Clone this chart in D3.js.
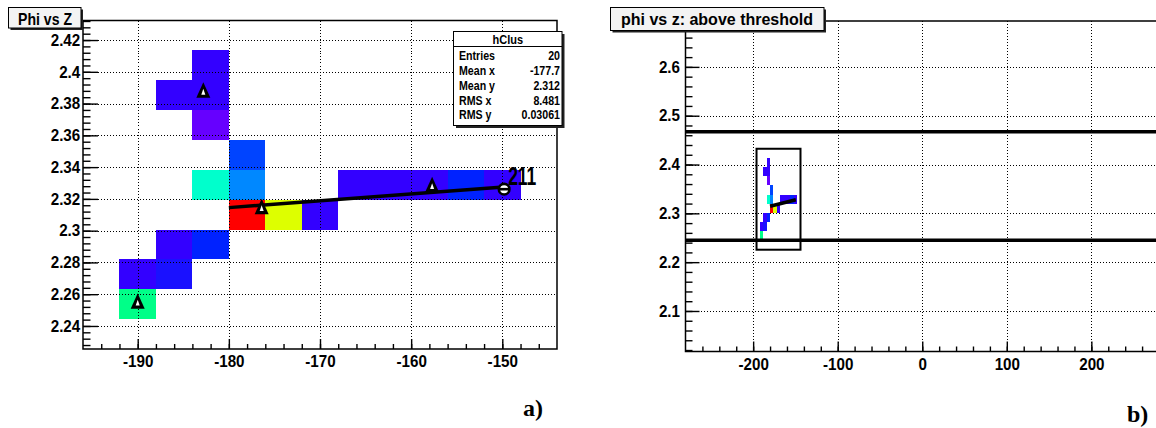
<!DOCTYPE html>
<html><head><meta charset="utf-8">
<script src="https://cdn.jsdelivr.net/npm/d3@7"></script>
<style>
html,body{margin:0;padding:0;background:#fff;}
svg{display:block;font-family:"Liberation Sans",Arial,Helvetica,sans-serif;}
</style></head><body>
<svg id="c" width="1156" height="428"></svg>
<script>
// ---- cluster histogram hClus: bin centres (z, phi) and cell contents ----
const cellZ   = [-190, -190, -186, -186, -182, -178, -174, -170, -182, -178,
                 -178, -182, -186, -182, -182, -166, -162, -158, -154, -150];
const cellPhi = [2.2537, 2.2725, 2.2725, 2.2913, 2.2913, 2.3101, 2.3101, 2.3101, 2.3289, 2.3289,
                 2.3477, 2.3665, 2.3853, 2.3853, 2.4041, 2.3289, 2.3289, 2.3289, 2.3289, 2.3289];
const cellW   = [8, 2, 2.5, 2, 3, 12, 10, 2, 7, 5,
                 4, 1, 2, 2, 2, 2, 2, 2, 3, 2];

// histogram binning
const histZRange = [-196, -144], histZBins = 13;
const histPhiRange = [2.2255, 2.4323], histPhiBins = 11;

// colour palette (low -> high content)
const paletteLevels = [1, 2, 3, 4, 5, 6, 7, 8, 9, 10, 11, 12];
const paletteColors = ["#6600ff", "#3300ff", "#0022ff", "#0044ff", "#0088ff", "#00c4ff",
                       "#00ffcc", "#00ff88", "#44ff22", "#ddff00", "#ff8800", "#ff0000"];

// reconstructed hit points (open triangles)
const triZ   = [-190, -182.8, -176.4, -157.7];
const triPhi = [2.2553, 2.388, 2.3148, 2.3286];

// track end point and its label
const endZ = -149.8, endPhi = 2.3261, endLabel = "211";

// straight-line fit through the cluster
const fitZ   = [-180, -149.5];
const fitPhi = [2.3145, 2.3277];

// statistics box
const statTitle  = "hClus";
const statNames  = ["Entries", "Mean x", "Mean y", "RMS x", "RMS y"];
const statValues = ["20", "-177.7", "2.312", "8.481", "0.03061"];

// phi window used in the full view
const thresholdPhi = [2.4672, 2.2447];

// axis ticks and labels
const leftXTicks  = [-190, -180, -170, -160, -150];
const leftXLabels = ["-190", "-180", "-170", "-160", "-150"];
const leftYTicks  = [2.24, 2.26, 2.28, 2.30, 2.32, 2.34, 2.36, 2.38, 2.40, 2.42];
const leftYLabels = ["2.24", "2.26", "2.28", "2.3", "2.32", "2.34", "2.36", "2.38", "2.4", "2.42"];
const rightXTicks  = [-200, -100, 0, 100, 200];
const rightXLabels = ["-200", "-100", "0", "100", "200"];
const rightYTicks  = [2.1, 2.2, 2.3, 2.4, 2.5, 2.6];
const rightYLabels = ["2.1", "2.2", "2.3", "2.4", "2.5", "2.6"];

const titleLeft = "Phi vs Z";
const titleRight = "phi vs z: above threshold";
const panelTags = ["a)", "b)"];

// ---------------------------------------------------------------------
const svg = d3.select("#c");
svg.append("rect").attr("width", 1156).attr("height", 428).attr("fill", "#fff");

const zColor = d3.scaleLinear().domain(paletteLevels).range(paletteColors).clamp(true);
const dZ = (histZRange[1] - histZRange[0]) / histZBins;
const dPhi = (histPhiRange[1] - histPhiRange[0]) / histPhiBins;
const cells = cellZ.map((z, i) => ({z, phi: cellPhi[i], w: cellW[i]}));

const px = v => Math.round(v) + 0.5;

function drawCells(g, x, y) {
  g.append("g").attr("shape-rendering", "crispEdges")
    .selectAll("rect").data(cells).join("rect")
    .attr("x", d => x(d.z - dZ / 2))
    .attr("width", d => x(d.z + dZ / 2) - x(d.z - dZ / 2))
    .attr("y", d => y(d.phi + dPhi / 2))
    .attr("height", d => y(d.phi - dPhi / 2) - y(d.phi + dPhi / 2))
    .attr("fill", d => zColor(d.w));
}

function drawGrid(g, x, y, xt, yt) {
  const [x0, x1] = x.range(), [y1, y0] = y.range();
  const gg = g.append("g").attr("stroke", "#000").attr("stroke-width", 1)
    .attr("stroke-dasharray", "1,2").attr("shape-rendering", "crispEdges");
  gg.selectAll(".gv").data(xt).join("line").attr("class", "gv")
    .attr("x1", d => px(x(d))).attr("x2", d => px(x(d)))
    .attr("y1", y0).attr("y2", y1);
  gg.selectAll(".gh").data(yt).join("line").attr("class", "gh")
    .attr("y1", d => px(y(d))).attr("y2", d => px(y(d)))
    .attr("x1", x0).attr("x2", Math.min(x1, 1156));
}

function styleAxis(sel, fs, sx) {
  sel.attr("font-family", null).attr("font-size", null);
  sel.select(".domain").remove();
  sel.selectAll(".tick line").attr("stroke", "#000").attr("stroke-width", 1.4);
  sel.selectAll(".tick text")
    .attr("fill", "#000").attr("font-weight", "bold").attr("font-size", fs)
    .attr("transform", `scale(${sx},1)`);
}

function drawAxes(g, x, y, o) {
  const [x0] = x.range(), [y1] = y.range();
  // minor ticks
  const mx = d3.axisBottom(x).tickValues(o.xMinor).tickSize(-o.xTick / 2).tickFormat("");
  g.append("g").attr("transform", `translate(0,${y1})`).call(mx).call(s => styleAxis(s, 16, 0.92));
  const my = d3.axisLeft(y).tickValues(o.yMinor).tickSize(-o.yTick / 2).tickFormat("");
  g.append("g").attr("transform", `translate(${x0},0)`).call(my).call(s => styleAxis(s, 16, 0.92));
  // major ticks with labels
  const ax = d3.axisBottom(x).tickValues(o.xMajor).tickSize(-o.xTick).tickPadding(o.xPad)
    .tickFormat((d, i) => o.xLabels[i]);
  g.append("g").attr("transform", `translate(0,${y1})`).call(ax).call(s => styleAxis(s, 16.5, 0.92));
  const ay = d3.axisLeft(y).tickValues(o.yMajor).tickSize(-o.yTick).tickPadding(o.yPad)
    .tickFormat((d, i) => o.yLabels[i]);
  g.append("g").attr("transform", `translate(${x0},0)`).call(ay).call(s => styleAxis(s, 16.5, 0.92));
}

function drawFrame(g, x, y) {
  const [x0, x1] = x.range(), [y1, y0] = y.range();
  g.append("path")
    .attr("d", `M${x0},${y1}L${x0},${y0}L${x1},${y0}L${x1},${y1}Z`)
    .attr("fill", "none").attr("stroke", "#000").attr("stroke-width", 1.5);
}

function titleBox(g, x0, y0, x1, y1, text, fs, sx, cx, base) {
  g.append("rect").attr("x", x0 + 2).attr("y", y0 + 2).attr("width", x1 - x0).attr("height", y1 - y0)
    .attr("fill", "#222");
  g.append("rect").attr("x", x0).attr("y", y0).attr("width", x1 - x0).attr("height", y1 - y0)
    .attr("fill", "#f3f3f3").attr("stroke", "#000").attr("stroke-width", 1);
  g.append("text").attr("transform", `translate(${cx},${base}) scale(${sx},1)`)
    .attr("text-anchor", "middle").attr("font-weight", "bold").attr("font-size", fs)
    .text(text);
}

// ---------------- left panel: zoom on the cluster ----------------
const xL = d3.scaleLinear().domain(histZRange).range([83, 557]);
const yL = d3.scaleLinear().domain(histPhiRange).range([349, 20.5]);
const gL = svg.append("g");

drawCells(gL, xL, yL);
drawGrid(gL, xL, yL, leftXTicks, leftYTicks);

// fit line
gL.append("line")
  .attr("x1", xL(fitZ[0])).attr("y1", yL(fitPhi[0]))
  .attr("x2", xL(fitZ[1])).attr("y2", yL(fitPhi[1]))
  .attr("stroke", "#000").attr("stroke-width", 3.5);

// triangles
const tri = gL.selectAll(".tri").data(triZ.map((z, i) => [z, triPhi[i]])).join("g")
  .attr("class", "tri")
  .attr("transform", d => `translate(${xL(d[0])},${yL(d[1])})`);
tri.append("path").attr("d", "M0,-8.5L7,7L-7,7Z").attr("fill", "#000");
tri.append("path").attr("d", "M0,-2L2,3.8L-2,3.8Z").attr("fill", "#fff");

// end point marker and label
const em = gL.append("g").attr("transform", `translate(${xL(endZ)},${yL(endPhi)})`);
em.append("circle").attr("r", 5.3).attr("fill", "#fff").attr("stroke", "#000").attr("stroke-width", 2.6);
em.append("line").attr("x1", -5.5).attr("x2", 5.5).attr("stroke", "#000").attr("stroke-width", 2.6);
gL.append("text")
  .attr("transform", `translate(${xL(endZ) + 4},${yL(endPhi) - 4}) scale(0.7,1)`)
  .attr("font-size", 25).attr("font-weight", "bold").attr("fill", "#000").text(endLabel);

drawFrame(gL, xL, yL);
drawAxes(gL, xL, yL, {
  xMajor: leftXTicks, xLabels: leftXLabels, xMinor: d3.range(-194, -144, 2),
  yMajor: leftYTicks, yLabels: leftYLabels, yMinor: d3.range(2.228, 2.4325, 0.004),
  xTick: 10, yTick: 15, xPad: 6.6, yPad: 3
});

// statistics box
{
  const bx0 = 453.5, bx1 = 562, by0 = 31.5, by1 = 125.5;
  gL.append("rect").attr("x", bx0 + 2.5).attr("y", by0 + 2.5).attr("width", bx1 - bx0).attr("height", by1 - by0)
    .attr("fill", "#222");
  gL.append("rect").attr("x", bx0).attr("y", by0).attr("width", bx1 - bx0).attr("height", by1 - by0)
    .attr("fill", "#fff").attr("stroke", "#000").attr("stroke-width", 1);
  gL.append("line").attr("x1", bx0).attr("x2", bx1).attr("y1", 46.5).attr("y2", 46.5)
    .attr("stroke", "#000").attr("stroke-width", 1);
  gL.append("text").attr("transform", `translate(${(bx0 + bx1) / 2},44) scale(0.88,1)`)
    .attr("text-anchor", "middle").attr("font-weight", "bold").attr("font-size", 12.5).text(statTitle);
  statNames.forEach((n, i) => {
    const b = 60.3 + i * 14.75;
    gL.append("text").attr("transform", `translate(459,${b}) scale(0.85,1)`)
      .attr("font-weight", "bold").attr("font-size", 12.5).text(n);
    gL.append("text").attr("transform", `translate(560,${b}) scale(0.85,1)`)
      .attr("text-anchor", "end").attr("font-weight", "bold").attr("font-size", 12.5).text(statValues[i]);
  });
}

titleBox(gL, 8.5, 7.5, 81, 28, titleLeft, 16, 0.88, 45, 24.5);

svg.append("text").attr("x", 523).attr("y", 416)
  .style("font-family", "'Liberation Serif', 'Times New Roman', serif")
  .attr("font-weight", "bold").attr("font-size", 24).text(panelTags[0]);

// ---------------- right panel: full z range ----------------
const xR = d3.scaleLinear().domain([-280, 280]).range([685.5, 1159]);
const yR = d3.scaleLinear().domain([2.017, 2.694]).range([351.5, 21]);
const gR = svg.append("g");

drawGrid(gR, xR, yR, rightXTicks, rightYTicks);
drawCells(gR, xR, yR);

gR.append("line")
  .attr("x1", xR(fitZ[0])).attr("y1", yR(fitPhi[0]))
  .attr("x2", xR(fitZ[1])).attr("y2", yR(fitPhi[1]))
  .attr("stroke", "#000").attr("stroke-width", 3.5);

// histogram window
gR.append("rect")
  .attr("x", xR(histZRange[0])).attr("y", yR(histPhiRange[1]))
  .attr("width", xR(histZRange[1]) - xR(histZRange[0]))
  .attr("height", yR(histPhiRange[0]) - yR(histPhiRange[1]))
  .attr("fill", "none").attr("stroke", "#000").attr("stroke-width", 2);

// phi thresholds
gR.selectAll(".thr").data(thresholdPhi).join("line").attr("class", "thr")
  .attr("x1", xR.range()[0]).attr("x2", 1156)
  .attr("y1", d => yR(d)).attr("y2", d => yR(d))
  .attr("stroke", "#000").attr("stroke-width", 3.5);

drawFrame(gR, xR, yR);
drawAxes(gR, xR, yR, {
  xMajor: rightXTicks, xLabels: rightXLabels, xMinor: d3.range(-260, 281, 20),
  yMajor: rightYTicks, yLabels: rightYLabels, yMinor: d3.range(2.02, 2.69, 0.02),
  xTick: 10, yTick: 14, xPad: 7, yPad: 6
});

titleBox(gR, 610.5, 7.5, 824, 30.5, titleRight, 16, 1, 717, 24.5);

svg.append("text").attr("x", 1127).attr("y", 422)
  .style("font-family", "'Liberation Serif', 'Times New Roman', serif")
  .attr("font-weight", "bold").attr("font-size", 24).text(panelTags[1]);
</script>
</body></html>
